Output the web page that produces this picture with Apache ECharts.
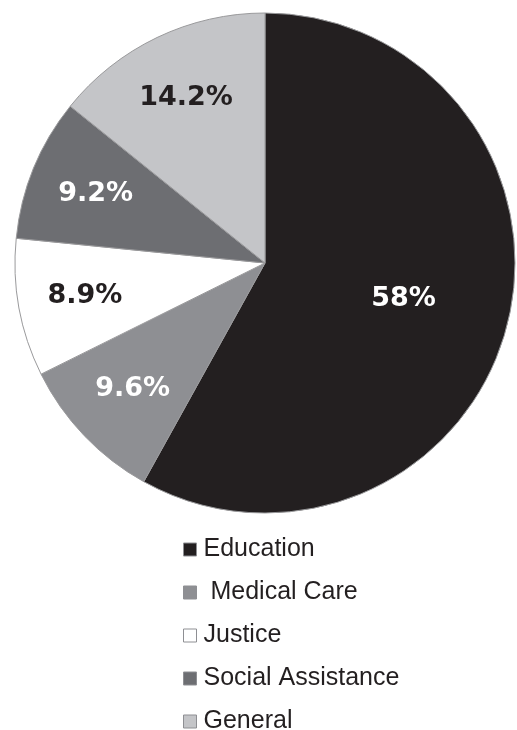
<!DOCTYPE html>
<html>
<head>
<meta charset="utf-8">
<style>
  html, body { margin: 0; padding: 0; background: #ffffff; }
  #chart { width: 517px; height: 730px; }
</style>
<script src="https://cdn.jsdelivr.net/npm/echarts@6/dist/echarts.min.js"></script>
</head>
<body>
<div id="chart"></div>
<script>
// Spending shares by category (percent)
const categories = ['Education', 'Medical Care', 'Justice', 'Social Assistance', 'General'];
const shares = [58, 9.6, 8.9, 9.2, 14.2];
const sliceColors = ['#231f20', '#8e8f93', '#ffffff', '#6d6e72', '#c4c5c8'];
const labelColors = ['#ffffff', '#ffffff', '#231f20', '#ffffff', '#231f20'];

const CENTER = [265, 263];
const R = 250;

const labelFont = {
  fontFamily: 'DejaVu Sans',
  fontWeight: 'bold',
  fontSize: 27
};

// Filled slices, no labels
const baseData = categories.map((name, i) => ({
  name,
  value: shares[i],
  itemStyle: { color: sliceColors[i] }
}));

// Transparent ring used only to place a slice's percentage label
function labelRing(showFn) {
  return categories.map((name, i) => ({
    name,
    value: shares[i],
    itemStyle: { color: 'rgba(0,0,0,0)', borderWidth: 0 },
    label: Object.assign({
      show: showFn(i),
      position: 'inside',
      color: labelColors[i],
      formatter: shares[i] + '%'
    }, labelFont)
  }));
}

const chart = echarts.init(document.getElementById('chart'), null, { renderer: 'canvas' });
chart.setOption({
  animation: false,
  backgroundColor: '#ffffff',
  legend: {
    orient: 'vertical',
    left: 183,
    top: 537,
    height: 400,
    padding: 0,
    data: categories,
    icon: 'rect',
    itemWidth: 13,
    itemHeight: 13,
    itemGap: 18,
    selectedMode: false,
    itemStyle: { borderColor: '#8e8f93', borderWidth: 1 },
    formatter: name => (name === 'Medical Care' ? ' ' + name : name),
    textStyle: {
      fontFamily: 'Liberation Sans',
      fontSize: 25,
      lineHeight: 24,
      color: '#231f20',
      padding: [0, 0, 0, 2]
    }
  },
  series: [
    {
      type: 'pie',
      center: CENTER,
      radius: [0, R],
      startAngle: 90,
      clockwise: true,
      silent: true,
      label: { show: false },
      labelLine: { show: false },
      itemStyle: { borderColor: '#9a9a9c', borderWidth: 1 },
      data: baseData
    },
    {
      type: 'pie',
      center: CENTER,
      radius: [30, R],
      startAngle: 90,
      clockwise: true,
      silent: true,
      labelLine: { show: false },
      data: labelRing(i => i === 0)
    },
    {
      type: 'pie',
      center: CENTER,
      radius: [110, R],
      startAngle: 90,
      clockwise: true,
      silent: true,
      labelLine: { show: false },
      data: labelRing(i => i !== 0)
    }
  ]
});
</script>
</body>
</html>
